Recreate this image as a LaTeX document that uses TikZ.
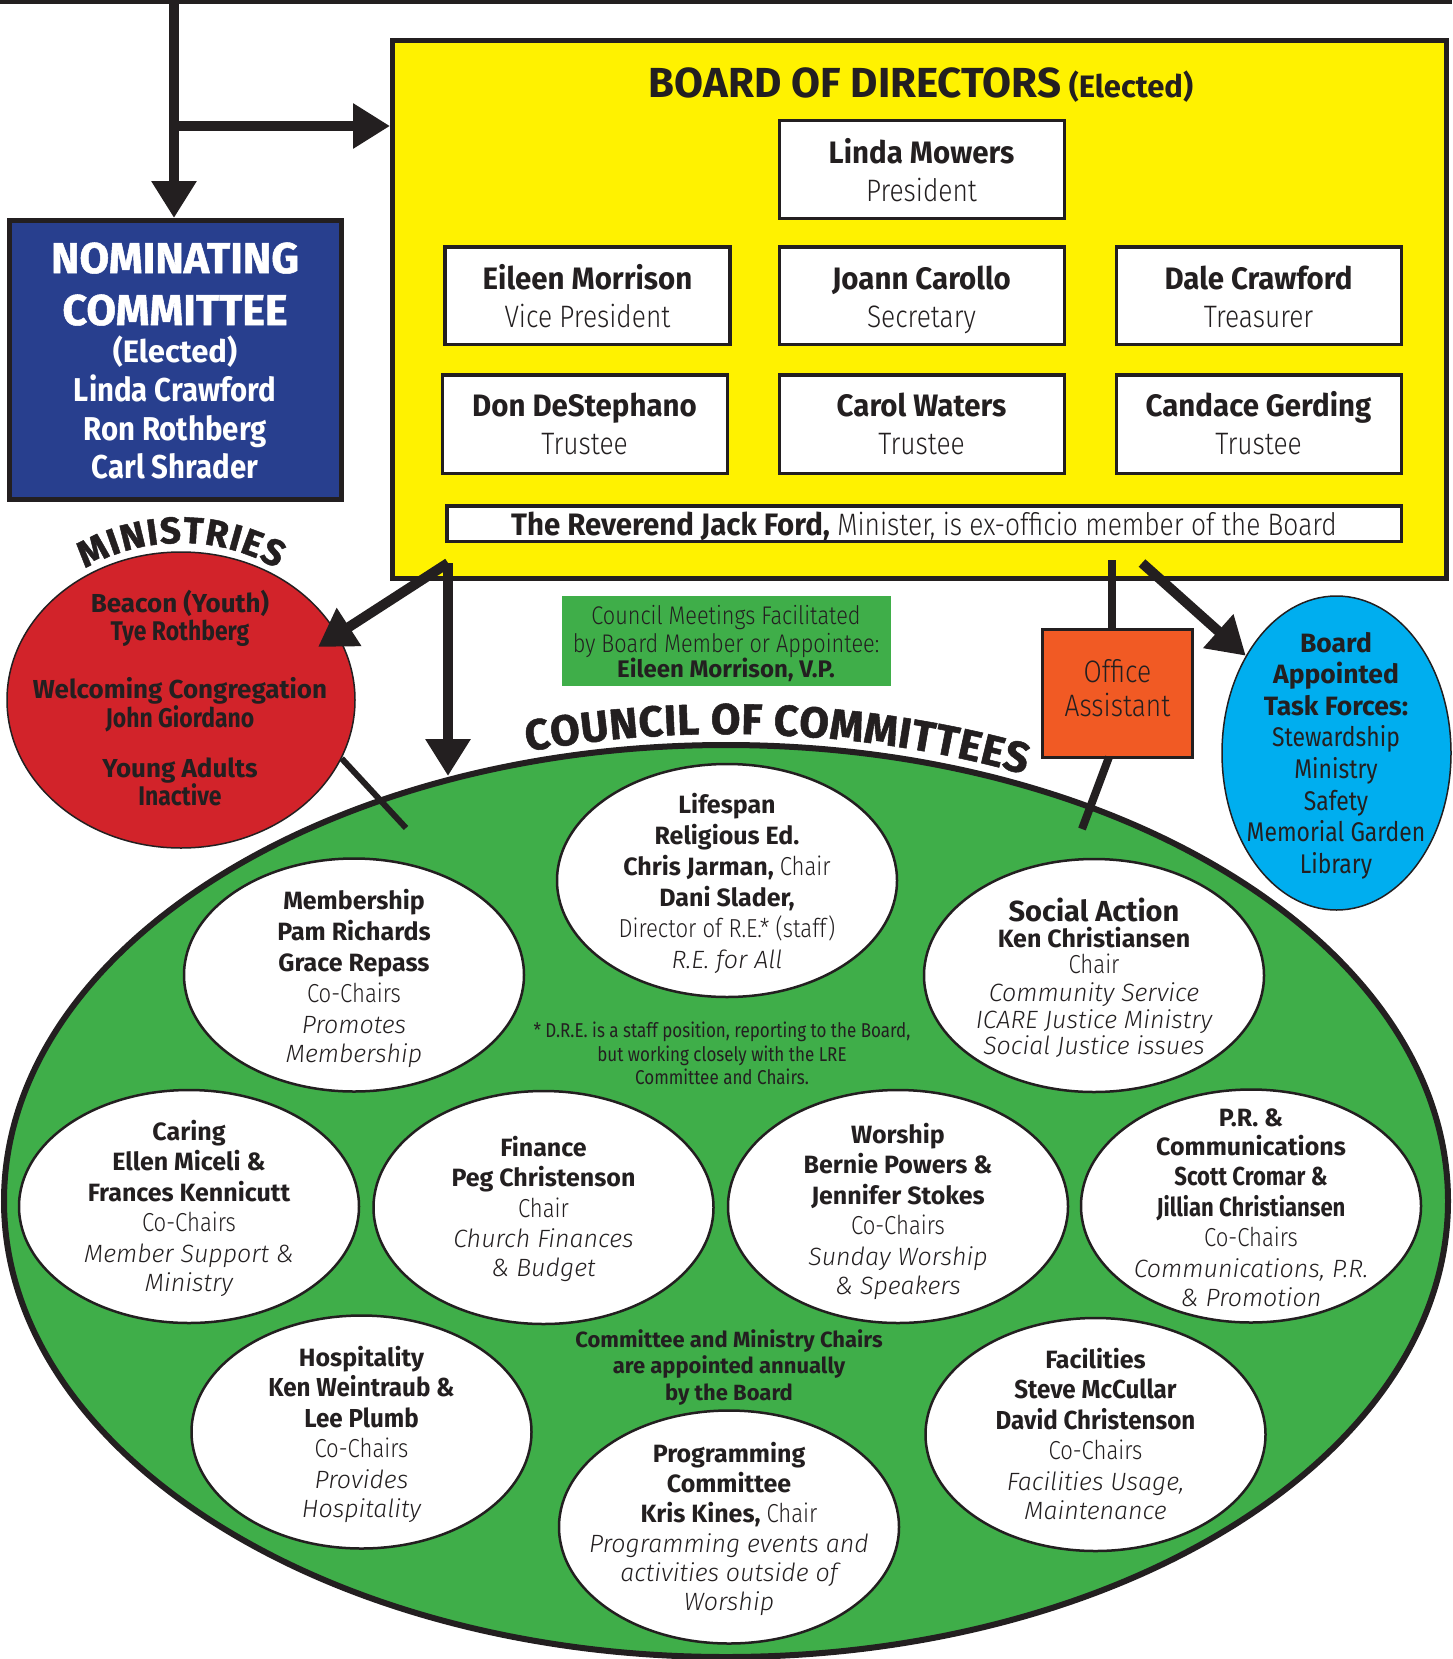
\documentclass[tikz,border=0pt]{standalone}
\usepackage{fontspec}
\usetikzlibrary{shapes.geometric,arrows.meta,decorations.text}
\setmainfont{Fira Sans}
\newfontfamily\fC{Fira Sans}[FakeStretch=0.85]
\newfontfamily\fCw{Fira Sans}[FakeStretch=0.93]
\newfontfamily\fN{Fira Sans}[FakeStretch=0.95]
\newfontfamily\fNom{Fira Sans}[FakeStretch=0.89]
\newfontfamily\fH{Fira Sans Bold}[FakeBold=1.2]
\newfontfamily\fL{Fira Sans Light}[FakeStretch=0.85]
\newfontfamily\fLI{Fira Sans Light Italic}
\definecolor{ink}{HTML}{231F20}
\definecolor{ybg}{HTML}{FFF200}
\definecolor{nblue}{HTML}{283F8E}
\definecolor{mred}{HTML}{D2232A}
\definecolor{cgreen}{HTML}{3FAE49}
\definecolor{oorange}{HTML}{F15A24}
\definecolor{tcyan}{HTML}{00AEEF}
\newcommand\LC{\fL\mdseries\upshape\fontsize{26}{31}\selectfont}
\newcommand\IT{\fLI\mdseries\upshape\fontsize{25}{31}\selectfont}
\newcommand\CB{\fC\bfseries\fontsize{26}{31}\selectfont}
\newcommand\CW{\fCw\bfseries\fontsize{26}{31}\selectfont}
\tikzset{
  thick line/.style={draw=ink, line width=10pt},
  bigarrow/.style={thick line, -{Triangle[length=37pt,width=43pt]}},
  bbox/.style={draw=ink, line width=3.5pt, fill=white, minimum width=285pt, minimum height=97.5pt, inner sep=0pt},
  comm/.style={ellipse, draw=ink, line width=2.5pt, fill=white, minimum width=340pt, minimum height=233pt, inner sep=0pt},
  txt/.style={align=center, anchor=base, inner sep=0pt, text=ink},
  ctext/.style={txt, font=\bfseries\fontsize{25}{30.5}\selectfont},
  btext/.style={txt, font=\fN\bfseries\fontsize{31}{38.5}\selectfont},
}
\newcommand\RL{\fL\mdseries\fontsize{31}{38.5}\selectfont}
\newcommand\NM{\fNom\bfseries\fontsize{33}{38.5}\selectfont}
\begin{document}
\begin{tikzpicture}[x=1pt,y=-1pt]
\useasboundingbox (0,0) rectangle (1452,1659);
\fill[white] (0,0) rectangle (1452,1659);

% council ellipse
\node[ellipse, draw=ink, line width=6pt, fill=cgreen, minimum width=1444pt, minimum height=912pt, inner sep=0pt] (council) at (726,1201) {};

% top line and nominating
\coordinate (tl) at (0,2);
\coordinate (tr) at (1452,2);
\coordinate (tj) at (174,2);
\coordinate (jn) at (174,126);
\draw[ink, line width=4.5pt] (tl) -- (tr);

\node[draw=ink, line width=5pt, fill=nblue, minimum width=332pt, minimum height=279pt, inner sep=0pt] (nom) at (175.5,360) {};
\node[txt, text=white, font=\fH\fontsize{43}{38.5}\selectfont] (nomT) at (175,478.5)
  {NOMINATING\\[13.5pt]COMMITTEE\\[-1.5pt]{\normalfont\bfseries\fontsize{31}{38.5}\selectfont (Elected)}\\[0.5pt]{\NM Linda Crawford}\\[0.5pt]{\NM Ron Rothberg}\\{\NM Carl Shrader}};

\draw[bigarrow] (tj) -- (tj |- nom.north);
\draw[bigarrow] (jn) -- (jn -| 390,0);

% board
\node[draw=ink, line width=5pt, fill=ybg, minimum width=1054pt, minimum height=537pt, inner sep=0pt] (board) at (919.5,309.5) {};
\node[txt] (title) at (921,98) {{\bfseries\fontsize{42}{42}\selectfont BOARD OF DIRECTORS}{\bfseries\fontsize{31}{31}\selectfont\ (Elected)}};

\node[bbox] (b1) at (921.75,169.5) {};
\node[bbox] (b2) at (587.5,295.5) {};
\node[bbox] (b3) at (921.75,295.5) {};
\node[bbox] (b4) at (1258.75,295.5) {};
\node[bbox, minimum height=98.5pt] (b5) at (584.75,424) {};
\node[bbox, minimum height=98.5pt] (b6) at (921.75,424) {};
\node[bbox, minimum height=98.5pt] (b7) at (1258.75,424) {};
\node[bbox, minimum width=954.5pt, minimum height=35.5pt] (b8) at (924,523.5) {};

\node[btext] (b1t) at (921.5,201.5) {Linda Mowers\\{\RL President}};
\node[btext] (b2t) at (587.5,327.5) {Eileen Morrison\\{\RL Vice President}};
\node[btext] (b3t) at (921.5,327.5) {Joann Carollo\\{\RL Secretary}};
\node[btext] (b4t) at (1258.5,327.5) {Dale Crawford\\{\RL Treasurer}};
\node[btext] (b5t) at (584.5,454.5) {Don DeStephano\\{\RL Trustee}};
\node[btext] (b6t) at (921.5,454.5) {Carol Waters\\{\RL Trustee}};
\node[btext] (b7t) at (1258.5,454.5) {Candace Gerding\\{\RL Trustee}};
\node[btext] (b8t) at (924,535) {The Reverend Jack Ford,{\RL\ Minister, is ex-officio member of the Board}};

% ministries
\node[ellipse, draw=ink, line width=1.5pt, fill=mred, minimum width=348pt, minimum height=296pt, inner sep=0pt] (red) at (181,700) {};
\node[txt, font=\bfseries\fontsize{26}{28.5}\selectfont] (redT) at (180,805.5)
  {Beacon (Youth)\\{\fC\fontsize{27}{28.5}\selectfont Tye Rothberg}\\[29.5pt]Welcoming Congregation\\{\fC\fontsize{27}{28.5}\selectfont John Giordano}\\[21.5pt]Young Adults\\{\fC\fontsize{27}{28.5}\selectfont Inactive}};
\path[decorate, decoration={text along path, text={|\fH\fontsize{37}{37}\selectfont\color{ink}|MINISTRIES}, text align={fit to path}}] (85,568.7) arc[start angle=-120, end angle=-60, radius=192];

% task forces
\node[ellipse, draw=ink, line width=1.5pt, fill=tcyan, minimum width=229pt, minimum height=314pt, inner sep=0pt] (tf) at (1336.5,753) {};
\node[txt, font=\bfseries\fontsize{26.5}{31.6}\selectfont] (tfT) at (1336,873.2)
  {Board\\Appointed\\Task Forces:\\{\fC\mdseries\fontsize{27}{31.6}\selectfont Stewardship}\\{\fC\mdseries\fontsize{27}{31.6}\selectfont Ministry}\\{\fC\mdseries\fontsize{27}{31.6}\selectfont Safety}\\{\fC\mdseries\fontsize{27}{31.6}\selectfont Memorial Garden}\\{\fC\mdseries\fontsize{27}{31.6}\selectfont Library}};

% office
\node[draw=ink, line width=3pt, fill=oorange, minimum width=150pt, minimum height=128pt, inner sep=0pt] (office) at (1117.5,693.5) {};
\node[txt, font=\fL\fontsize{31}{34}\selectfont] (officeT) at (1117.5,716) {Office\\Assistant};

% info box
\node[fill=cgreen, minimum width=329pt, minimum height=90pt, inner sep=0pt] (info) at (726.5,641) {};
\node[txt, font=\fL\fontsize{25.5}{28}\selectfont] (infoT) at (726,677)
  {Council Meetings Facilitated\\by Board Member or Appointee:\\[-3pt]{\normalfont\bfseries\fontsize{24}{28}\selectfont Eileen Morrison, V.P.}};

% connectors from board
\coordinate (bL) at (448,563);
\coordinate (minTip) at (318,647);
\coordinate (cTip) at (448,776);
\coordinate (oTop) at (1112,560);
\coordinate (oBot) at (1109,757);
\coordinate (oEnd) at (1082,829);
\coordinate (tfS) at (1142,563);
\coordinate (redEnd) at (406,828);
\draw[bigarrow] (bL) -- (minTip);
\draw[bigarrow] (bL) -- (cTip);
\draw[ink, line width=8pt] (oTop) -- (oTop |- office.north);
\draw[ink, line width=8pt] (oBot) -- (oEnd);
\draw[bigarrow] (tfS) -- (tf.133);
\draw[ink, line width=6pt] (red.-20) -- (redEnd);

\path[decorate, decoration={text along path, text={|\fH\fontsize{43}{43}\selectfont\color{ink}|COUNCIL OF COMMITTEES}, text align={fit to path}}] (527.4,751.4) arc[start angle=-105.7, end angle=-66, x radius=734, y radius=467];

% committees
\node[comm] (lre) at (727,880.5) {};
\node[comm] (mem) at (354,975) {};
\node[comm] (soc) at (1094,975.5) {};
\node[comm] (car) at (189,1206.5) {};
\node[comm] (fin) at (543.5,1207.5) {};
\node[comm] (wor) at (898,1206.5) {};
\node[comm] (prc) at (1251,1206) {};
\node[comm] (hos) at (361.5,1432) {};
\node[comm] (pro) at (729,1527) {};
\node[comm] (fac) at (1095.5,1434.5) {};

\node[ctext, font=\bfseries\fontsize{25}{31}\selectfont] (lreT) at (727,968)
  {Lifespan\\Religious Ed.\\Chris Jarman, {\LC Chair}\\Dani Slader,\\{\LC Director of R.E.* (staff)}\\{\IT R.E. for All}};
\node[ctext, font=\bfseries\fontsize{25}{31}\selectfont] (memT) at (354,1062)
  {Membership\\Pam Richards\\Grace Repass\\{\LC Co-Chairs}\\{\IT Promotes}\\[-2pt]{\IT Membership}};
\node[ctext, font=\bfseries\fontsize{25}{26.4}\selectfont] (socT) at (1094,1054.5)
  {{\fontsize{29}{26.4}\selectfont Social Action}\\Ken Christiansen\\{\LC Chair}\\[1.5pt]{\IT Community Service}\\{\IT ICARE Justice Ministry}\\{\IT Social Justice issues}};
\node[ctext] (carT) at (189,1291)
  {Caring\\Ellen Miceli \&\\Frances Kennicutt\\{\LC Co-Chairs}\\{\IT Member Support \&}\\[-1.5pt]{\IT Ministry}};
\node[ctext] (finT) at (543.5,1276.5)
  {Finance\\Peg Christenson\\{\LC Chair}\\{\IT Church Finances}\\[-1.5pt]{\IT \& Budget}};
\node[ctext] (worT) at (898,1294)
  {Worship\\Bernie Powers \&\\Jennifer Stokes\\{\LC Co-Chairs}\\{\IT Sunday Worship}\\[-1.5pt]{\IT \& Speakers}};
\node[ctext] (prcT) at (1251,1306)
  {P.R. \&\\[-1.5pt]Communications\\{\CB Scott Cromar \&}\\{\CB Jillian Christiansen}\\{\LC Co-Chairs}\\{\IT Communications, P.R.}\\[-1.5pt]{\IT \& Promotion}};
\node[ctext] (hosT) at (361.5,1517.5)
  {Hospitality\\{\CW Ken Weintraub \&}\\{\CW Lee Plumb}\\{\LC Co-Chairs}\\{\IT Provides}\\[-1pt]{\IT Hospitality}};
\node[ctext] (facT) at (1095.5,1519)
  {Facilities\\{\CW Steve McCullar}\\{\CW David Christenson}\\{\LC Co-Chairs}\\{\IT Facilities Usage,}\\[-1.5pt]{\IT Maintenance}};
\node[ctext, font=\bfseries\fontsize{25}{30}\selectfont] (proT) at (729,1610)
  {Programming\\Committee\\Kris Kines, {\LC Chair}\\{\IT Programming events and}\\[-1pt]{\IT activities outside of}\\[-1pt]{\IT Worship}};

\node[txt, font=\fC\fontsize{20}{24}\selectfont] (dre) at (722,1084)
  {* D.R.E. is a staff position, reporting to the Board,\\but working closely with the LRE\\[-1pt]Committee and Chairs.};
\node[txt, font=\bfseries\fontsize{22}{26.5}\selectfont] (apt) at (729,1400)
  {Committee and Ministry Chairs\\are appointed annually\\by the Board};
\end{tikzpicture}
\end{document}
